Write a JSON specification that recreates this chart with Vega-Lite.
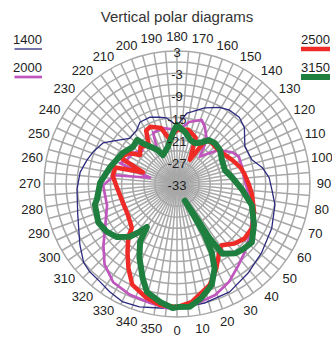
{
"$schema": "https://vega.github.io/schema/vega-lite/v6.json",
"width": 266, "height": 266,
"autosize": "none",
"padding": {"left": 44, "top": 51, "right": 22, "bottom": 21},
"config": {"view": {"stroke": null}, "font": "Liberation Sans"},
"title": {"text": "Vertical polar diagrams", "fontSize": 15, "fontWeight": "normal", "color": "#333333", "font": "Liberation Sans", "frame": "group", "anchor": "middle", "baseline": "alphabetic", "offset": -6},
"datasets": {
"spokes": [{"a":0},{"a":5},{"a":10},{"a":15},{"a":20},{"a":25},{"a":30},{"a":35},{"a":40},{"a":45},{"a":50},{"a":55},{"a":60},{"a":65},{"a":70},{"a":75},{"a":80},{"a":85},{"a":90},{"a":95},{"a":100},{"a":105},{"a":110},{"a":115},{"a":120},{"a":125},{"a":130},{"a":135},{"a":140},{"a":145},{"a":150},{"a":155},{"a":160},{"a":165},{"a":170},{"a":175},{"a":180},{"a":185},{"a":190},{"a":195},{"a":200},{"a":205},{"a":210},{"a":215},{"a":220},{"a":225},{"a":230},{"a":235},{"a":240},{"a":245},{"a":250},{"a":255},{"a":260},{"a":265},{"a":270},{"a":275},{"a":280},{"a":285},{"a":290},{"a":295},{"a":300},{"a":305},{"a":310},{"a":315},{"a":320},{"a":325},{"a":330},{"a":335},{"a":340},{"a":345},{"a":350},{"a":355}],
"rings": [{"d":-30},{"d":-27},{"d":-24},{"d":-21},{"d":-18},{"d":-15},{"d":-12},{"d":-9},{"d":-6},{"d":-3},{"d":0},{"d":3}],
"angles": [{"a":0},{"a":10},{"a":20},{"a":30},{"a":40},{"a":50},{"a":60},{"a":70},{"a":80},{"a":90},{"a":100},{"a":110},{"a":120},{"a":130},{"a":140},{"a":150},{"a":160},{"a":170},{"a":180},{"a":190},{"a":200},{"a":210},{"a":220},{"a":230},{"a":240},{"a":250},{"a":260},{"a":270},{"a":280},{"a":290},{"a":300},{"a":310},{"a":320},{"a":330},{"a":340},{"a":350}],
"rlabels": [{"d":3},{"d":-3},{"d":-9},{"d":-15},{"d":-21},{"d":-27},{"d":-33}],
"curves": [
{"s":"1400","a":0,"d":0.7},{"s":"1400","a":13,"d":0.1},{"s":"1400","a":26,"d":-0.5},{"s":"1400","a":39,"d":-2.2},{"s":"1400","a":51,"d":-3.5},{"s":"1400","a":65,"d":-4.7},{"s":"1400","a":78,"d":-5.9},{"s":"1400","a":86,"d":-7.2},{"s":"1400","a":94,"d":-8.0},{"s":"1400","a":101,"d":-9.5},{"s":"1400","a":108,"d":-11.7},{"s":"1400","a":119,"d":-12.0},{"s":"1400","a":130,"d":-9.2},{"s":"1400","a":137,"d":-8.3},{"s":"1400","a":145,"d":-8.5},{"s":"1400","a":151,"d":-9.3},{"s":"1400","a":160,"d":-11.1},{"s":"1400","a":168,"d":-13.0},{"s":"1400","a":172,"d":-13.6},{"s":"1400","a":180,"d":-17.2},{"s":"1400","a":189,"d":-14.9},{"s":"1400","a":195,"d":-14.3},{"s":"1400","a":202,"d":-13.5},{"s":"1400","a":211,"d":-13.5},{"s":"1400","a":217,"d":-14.8},{"s":"1400","a":226,"d":-15.2},{"s":"1400","a":234,"d":-12.9},{"s":"1400","a":241,"d":-10.1},{"s":"1400","a":249,"d":-8.7},{"s":"1400","a":255,"d":-7.8},{"s":"1400","a":263,"d":-6.6},{"s":"1400","a":273,"d":-5.9},{"s":"1400","a":287,"d":-4.9},{"s":"1400","a":302,"d":-2.0},{"s":"1400","a":310,"d":0.0},{"s":"1400","a":315,"d":0.5},{"s":"1400","a":322,"d":0.7},{"s":"1400","a":328,"d":1.4},{"s":"1400","a":335,"d":2.1},{"s":"1400","a":343,"d":1.8},{"s":"1400","a":352,"d":0.9},{"s":"1400","a":360,"d":0.7},
{"s":"2000","a":0,"d":0.5},{"s":"2000","a":10,"d":-0.25},{"s":"2000","a":19,"d":-1.25},{"s":"2000","a":28,"d":-3.0},{"s":"2000","a":37,"d":-5.4},{"s":"2000","a":45,"d":-7.0},{"s":"2000","a":55,"d":-8.9},{"s":"2000","a":66,"d":-10.7},{"s":"2000","a":78,"d":-12.8},{"s":"2000","a":89,"d":-14.3},{"s":"2000","a":96,"d":-14.75},{"s":"2000","a":105,"d":-14.8},{"s":"2000","a":114,"d":-14.7},{"s":"2000","a":120,"d":-15.8},{"s":"2000","a":129,"d":-18.4},{"s":"2000","a":134,"d":-21},{"s":"2000","a":140,"d":-23.4},{"s":"2000","a":146,"d":-18.6},{"s":"2000","a":154,"d":-15.8},{"s":"2000","a":159,"d":-14.4},{"s":"2000","a":169,"d":-15.9},{"s":"2000","a":178,"d":-18.4},{"s":"2000","a":194,"d":-17.4},{"s":"2000","a":205,"d":-17.7},{"s":"2000","a":210,"d":-22.3},{"s":"2000","a":216,"d":-20.6},{"s":"2000","a":222,"d":-18},{"s":"2000","a":226,"d":-20},{"s":"2000","a":235,"d":-18.4},{"s":"2000","a":244,"d":-18},{"s":"2000","a":250,"d":-16.6},{"s":"2000","a":257,"d":-25.5},{"s":"2000","a":262,"d":-16},{"s":"2000","a":271,"d":-13.0},{"s":"2000","a":287,"d":-13.2},{"s":"2000","a":300,"d":-10.6},{"s":"2000","a":310,"d":-7.0},{"s":"2000","a":318,"d":-3.7},{"s":"2000","a":327,"d":-1.3},{"s":"2000","a":337,"d":-0.4},{"s":"2000","a":347,"d":0.0},{"s":"2000","a":355,"d":0.7},{"s":"2000","a":360,"d":0.5},
{"s":"2500","a":0,"d":0.3},{"s":"2500","a":7,"d":-0.8},{"s":"2500","a":18,"d":-4.3},{"s":"2500","a":25,"d":-7.8},{"s":"2500","a":32,"d":-11.4},{"s":"2500","a":36,"d":-12.5},{"s":"2500","a":44,"d":-10.6},{"s":"2500","a":51,"d":-9.5},{"s":"2500","a":60,"d":-9.45},{"s":"2500","a":70,"d":-10.8},{"s":"2500","a":82,"d":-12.5},{"s":"2500","a":90,"d":-13.6},{"s":"2500","a":99,"d":-14.6},{"s":"2500","a":105,"d":-15.3},{"s":"2500","a":114,"d":-16.8},{"s":"2500","a":125,"d":-18.2},{"s":"2500","a":134,"d":-18.6},{"s":"2500","a":140,"d":-18.4},{"s":"2500","a":147,"d":-18.9},{"s":"2500","a":152,"d":-25.6},{"s":"2500","a":158,"d":-19.5},{"s":"2500","a":168,"d":-18},{"s":"2500","a":180,"d":-18.4},{"s":"2500","a":190,"d":-20.5},{"s":"2500","a":196,"d":-17.2},{"s":"2500","a":205,"d":-15.9},{"s":"2500","a":210,"d":-16.3},{"s":"2500","a":216,"d":-20},{"s":"2500","a":225,"d":-19},{"s":"2500","a":232,"d":-20.3},{"s":"2500","a":237,"d":-17.6},{"s":"2500","a":245,"d":-16},{"s":"2500","a":251,"d":-23.3},{"s":"2500","a":255,"d":-15.7},{"s":"2500","a":263,"d":-15.5},{"s":"2500","a":271,"d":-16.5},{"s":"2500","a":289,"d":-17.5},{"s":"2500","a":302,"d":-17.3},{"s":"2500","a":314,"d":-16.0},{"s":"2500","a":318,"d":-13.3},{"s":"2500","a":324,"d":-10.2},{"s":"2500","a":330,"d":-6.7},{"s":"2500","a":336,"d":-3.2},{"s":"2500","a":345,"d":-1.1},{"s":"2500","a":352,"d":0.1},{"s":"2500","a":360,"d":0.3},
{"s":"3150","a":0,"d":0.3},{"s":"3150","a":6,"d":0.4},{"s":"3150","a":12,"d":-1.4},{"s":"3150","a":19,"d":-4.1},{"s":"3150","a":24,"d":-8},{"s":"3150","a":27,"d":-12.3},{"s":"3150","a":28.5,"d":-17.2},{"s":"3150","a":28,"d":-22.6},{"s":"3150","a":25,"d":-28},{"s":"3150","a":30,"d":-22},{"s":"3150","a":31,"d":-16},{"s":"3150","a":33,"d":-10.5},{"s":"3150","a":40,"d":-8.5},{"s":"3150","a":45,"d":-7.9},{"s":"3150","a":52,"d":-7.3},{"s":"3150","a":62,"d":-9.4},{"s":"3150","a":74,"d":-11.9},{"s":"3150","a":85,"d":-15.3},{"s":"3150","a":97,"d":-18.0},{"s":"3150","a":106,"d":-19.5},{"s":"3150","a":118,"d":-19.2},{"s":"3150","a":128,"d":-18.2},{"s":"3150","a":137,"d":-17.9},{"s":"3150","a":144,"d":-18.3},{"s":"3150","a":149,"d":-19.8},{"s":"3150","a":156,"d":-20.9},{"s":"3150","a":163,"d":-20.6},{"s":"3150","a":171,"d":-18.8},{"s":"3150","a":180,"d":-17.0},{"s":"3150","a":184.5,"d":-19.1},{"s":"3150","a":194,"d":-22.7},{"s":"3150","a":206,"d":-24.3},{"s":"3150","a":210,"d":-22.3},{"s":"3150","a":220,"d":-18.6},{"s":"3150","a":222,"d":-16.9},{"s":"3150","a":230,"d":-17.4},{"s":"3150","a":240,"d":-16.1},{"s":"3150","a":256,"d":-14.3},{"s":"3150","a":269,"d":-12.2},{"s":"3150","a":281,"d":-10.9},{"s":"3150","a":284,"d":-10.1},{"s":"3150","a":296,"d":-9.3},{"s":"3150","a":304,"d":-10.0},{"s":"3150","a":311.5,"d":-11.3},{"s":"3150","a":318,"d":-13.8},{"s":"3150","a":322,"d":-16.6},{"s":"3150","a":325,"d":-18.8},{"s":"3150","a":327.5,"d":-14.4},{"s":"3150","a":333,"d":-10.6},{"s":"3150","a":340,"d":-5.85},{"s":"3150","a":344.5,"d":-2.65},{"s":"3150","a":352,"d":-0.7},{"s":"3150","a":358,"d":0.6},{"s":"3150","a":360,"d":0.3}
]
},
"layer": [
{"data": {"name": "spokes"},
 "transform": [{"calculate": "36*sin(datum.a*PI/180)", "as": "x2"}, {"calculate": "-36*cos(datum.a*PI/180)", "as": "y2"}, {"calculate": "0", "as": "x0"}],
 "mark": {"type": "rule", "stroke": "#a8a8a8", "strokeWidth": 1.5},
 "encoding": {
  "x": {"field": "x0", "type": "quantitative", "scale": {"domain": [-36, 36], "nice": false, "zero": false}, "axis": null},
  "y": {"field": "x0", "type": "quantitative", "scale": {"domain": [-36, 36], "nice": false, "zero": false}, "axis": null},
  "x2": {"field": "x2"}, "y2": {"field": "y2"}}},
{"data": {"name": "rings"},
 "transform": [{"calculate": "datum.d+33", "as": "r"}, {"calculate": "0", "as": "x0"}],
 "mark": {"type": "point", "shape": "circle", "filled": false, "stroke": "#a8a8a8", "strokeWidth": 1.5, "opacity": 1},
 "encoding": {
  "x": {"field": "x0", "type": "quantitative", "scale": {"domain": [-36, 36], "nice": false, "zero": false}, "axis": null},
  "y": {"field": "x0", "type": "quantitative", "scale": {"domain": [-36, 36], "nice": false, "zero": false}, "axis": null},
  "size": {"field": "r", "type": "quantitative", "scale": {"type": "pow", "exponent": 2, "domain": [0, 36], "range": [0, 70756], "zero": true, "nice": false}, "legend": null}}},
{"data": {"name": "curves"},
 "transform": [{"filter": "datum.s == '1400' || datum.s == '2000'"}, {"window": [{"op": "row_number", "as": "i"}]}, {"calculate": "(datum.d+33)*sin(datum.a*PI/180)", "as": "x"}, {"calculate": "-(datum.d+33)*cos(datum.a*PI/180)", "as": "y"}],
 "mark": {"type": "line", "strokeJoin": "round", "strokeCap": "butt"},
 "encoding": {
  "x": {"field": "x", "type": "quantitative", "scale": {"domain": [-36, 36], "nice": false, "zero": false}, "axis": null},
  "y": {"field": "y", "type": "quantitative", "scale": {"domain": [-36, 36], "nice": false, "zero": false}, "axis": null},
  "order": {"field": "i", "type": "quantitative"},
  "color": {"field": "s", "type": "nominal", "scale": {"domain": ["1400", "2000"], "range": ["#2b2a7e", "#c055bd"]},
    "legend": {"orient": "none", "legendX": -31, "legendY": -15, "title": null, "symbolType": "stroke", "symbolSize": 961, "clipHeight": 26, "labelOffset": -34, "labelBaseline": "bottom", "labelFontSize": 13, "labelFont": "Liberation Sans", "labelColor": "#222222", "rowPadding": 0,
      "encode": {"symbols": {"update": {"strokeWidth": {"signal": "datum.value == '1400' ? 1.8 : 3"}}}, "labels": {"update": {"dy": {"value": -2}}}}}},
  "strokeWidth": {"field": "s", "type": "ordinal", "scale": {"domain": ["1400", "2000"], "range": [1.3, 2.7]}, "legend": null}}},
{"data": {"name": "curves"},
 "transform": [{"filter": "datum.s == '2500' || datum.s == '3150'"}, {"window": [{"op": "row_number", "as": "i"}]}, {"calculate": "(datum.d+33)*sin(datum.a*PI/180)", "as": "x"}, {"calculate": "-(datum.d+33)*cos(datum.a*PI/180)", "as": "y"}],
 "mark": {"type": "line", "strokeJoin": "round", "strokeCap": "butt"},
 "encoding": {
  "x": {"field": "x", "type": "quantitative", "scale": {"domain": [-36, 36], "nice": false, "zero": false}, "axis": null},
  "y": {"field": "y", "type": "quantitative", "scale": {"domain": [-36, 36], "nice": false, "zero": false}, "axis": null},
  "order": {"field": "i", "type": "quantitative"},
  "color": {"field": "s", "type": "nominal", "scale": {"domain": ["2500", "3150"], "range": ["#ee2b26", "#1e7f3e"]},
    "legend": {"orient": "none", "legendX": 254, "legendY": -15, "title": null, "symbolType": "stroke", "symbolSize": 961, "clipHeight": 26, "labelOffset": -34, "labelBaseline": "bottom", "labelFontSize": 13, "labelFont": "Liberation Sans", "labelColor": "#222222", "rowPadding": 0,
      "encode": {"symbols": {"update": {"strokeWidth": {"signal": "datum.value == '2500' ? 4 : 5"}}}, "labels": {"update": {"dy": {"value": -2}}}}}},
  "strokeWidth": {"field": "s", "type": "ordinal", "scale": {"domain": ["2500", "3150"], "range": [4.5, 6]}, "legend": null}}},
{"data": {"name": "rlabels"},
 "transform": [{"calculate": "datum.d+33", "as": "y"}, {"calculate": "datum.d+''", "as": "t"}, {"calculate": "0", "as": "x0"}],
 "mark": {"type": "text", "fontSize": 13, "font": "Liberation Sans", "fill": "#222222", "align": "center", "baseline": "middle", "dy": 2},
 "encoding": {
  "x": {"field": "x0", "type": "quantitative", "scale": {"domain": [-36, 36], "nice": false, "zero": false}, "axis": null},
  "y": {"field": "y", "type": "quantitative", "scale": {"domain": [-36, 36], "nice": false, "zero": false}, "axis": null},
  "text": {"field": "t", "type": "nominal"}}},
{"data": {"name": "angles"},
 "transform": [{"calculate": "39.8*sin(datum.a*PI/180)", "as": "x"}, {"calculate": "-39.8*cos(datum.a*PI/180)", "as": "y"}, {"calculate": "datum.a+''", "as": "t"}],
 "mark": {"type": "text", "fontSize": 13, "font": "Liberation Sans", "fill": "#222222", "align": "center", "baseline": "middle"},
 "encoding": {
  "x": {"field": "x", "type": "quantitative", "scale": {"domain": [-36, 36], "nice": false, "zero": false}, "axis": null},
  "y": {"field": "y", "type": "quantitative", "scale": {"domain": [-36, 36], "nice": false, "zero": false}, "axis": null},
  "text": {"field": "t", "type": "nominal"}}}
],
"resolve": {"scale": {"color": "independent", "strokeWidth": "independent"}, "legend": {"color": "independent"}}
}
